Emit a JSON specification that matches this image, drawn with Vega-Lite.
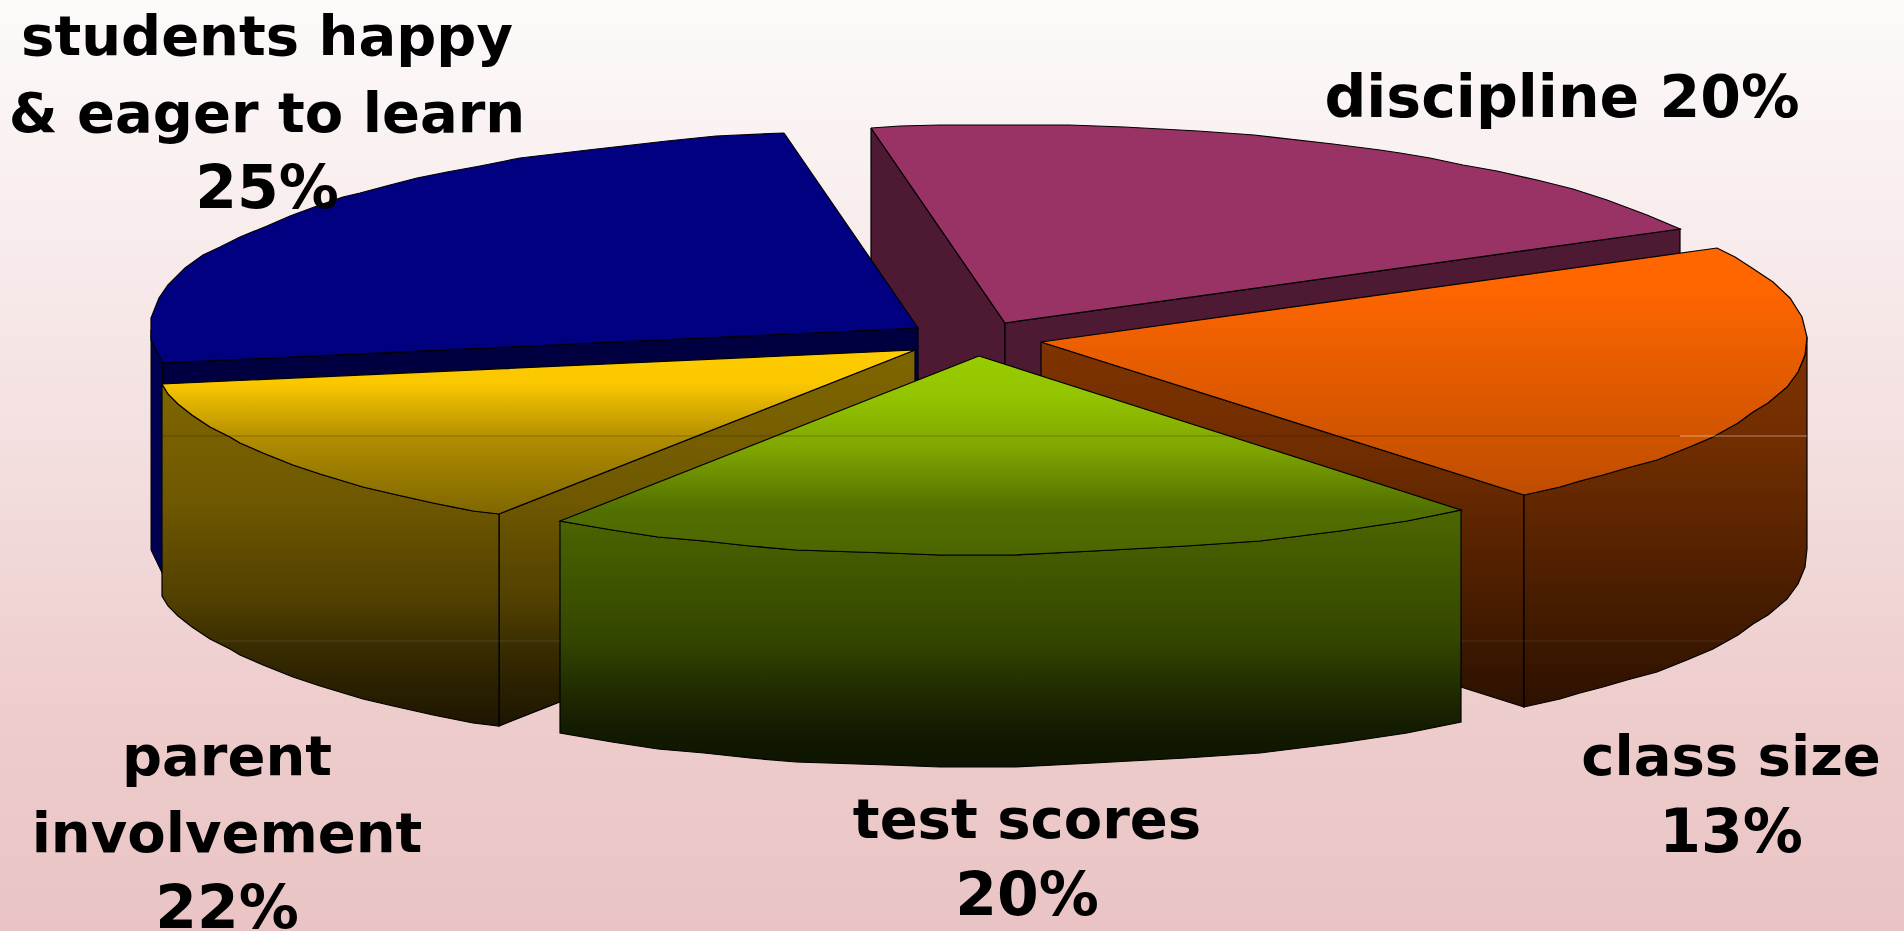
{"$schema":"https://vega.github.io/schema/vega-lite/v6.json","width":1904,"height":931,"padding":0,"autosize":"none","background":"#EAC4C4","config":{"view":{"stroke":null,"fill":{"gradient":"linear","x1":0,"y1":0,"x2":0,"y2":1,"stops":[{"offset":0,"color":"#FDFAFA"},{"offset":0.5,"color":"#F3DEDE"},{"offset":0.75,"color":"#EECDCD"},{"offset":1,"color":"#EAC4C4"}]}}},"data":{"values":[
{"s":"pl","i":0,"x":871,"y":128},{"s":"pl","i":1,"x":1005,"y":323},{"s":"pl","i":2,"x":1005,"y":535},{"s":"pl","i":3,"x":871,"y":340},{"s":"pl","i":4,"x":871,"y":128},
{"s":"pf","i":0,"x":1005,"y":323},{"s":"pf","i":1,"x":1680,"y":229},{"s":"pf","i":2,"x":1680,"y":441},{"s":"pf","i":3,"x":1005,"y":535},{"s":"pf","i":4,"x":1005,"y":323},
{"s":"pt","i":0,"x":871,"y":128},{"s":"pt","i":1,"x":900,"y":126},{"s":"pt","i":2,"x":940,"y":125},{"s":"pt","i":3,"x":1069,"y":125},{"s":"pt","i":4,"x":1124,"y":127},{"s":"pt","i":5,"x":1198,"y":131},{"s":"pt","i":6,"x":1254,"y":135},{"s":"pt","i":7,"x":1333,"y":144},{"s":"pt","i":8,"x":1380,"y":150},{"s":"pt","i":9,"x":1400,"y":153},{"s":"pt","i":10,"x":1430,"y":158},{"s":"pt","i":11,"x":1463,"y":165},{"s":"pt","i":12,"x":1497,"y":171},{"s":"pt","i":13,"x":1537,"y":180},{"s":"pt","i":14,"x":1573,"y":189},{"s":"pt","i":15,"x":1607,"y":200},{"s":"pt","i":16,"x":1647,"y":215},{"s":"pt","i":17,"x":1680,"y":229},{"s":"pt","i":18,"x":1005,"y":323},{"s":"pt","i":19,"x":871,"y":128},
{"s":"oi","i":0,"x":1041,"y":342},{"s":"oi","i":1,"x":1524,"y":495},{"s":"oi","i":2,"x":1524,"y":707},{"s":"oi","i":3,"x":1041,"y":554},{"s":"oi","i":4,"x":1041,"y":342},
{"s":"oo","i":0,"x":1807,"y":337},{"s":"oo","i":1,"x":1805,"y":355},{"s":"oo","i":2,"x":1798,"y":372},{"s":"oo","i":3,"x":1787,"y":387},{"s":"oo","i":4,"x":1768,"y":403},{"s":"oo","i":5,"x":1753,"y":412},{"s":"oo","i":6,"x":1738,"y":423},{"s":"oo","i":7,"x":1713,"y":437},{"s":"oo","i":8,"x":1687,"y":448},{"s":"oo","i":9,"x":1657,"y":460},{"s":"oo","i":10,"x":1627,"y":468},{"s":"oo","i":11,"x":1603,"y":475},{"s":"oo","i":12,"x":1580,"y":481},{"s":"oo","i":13,"x":1560,"y":487},{"s":"oo","i":14,"x":1524,"y":495},{"s":"oo","i":15,"x":1524,"y":707},{"s":"oo","i":16,"x":1560,"y":699},{"s":"oo","i":17,"x":1580,"y":693},{"s":"oo","i":18,"x":1603,"y":687},{"s":"oo","i":19,"x":1627,"y":680},{"s":"oo","i":20,"x":1657,"y":672},{"s":"oo","i":21,"x":1687,"y":660},{"s":"oo","i":22,"x":1713,"y":649},{"s":"oo","i":23,"x":1738,"y":635},{"s":"oo","i":24,"x":1753,"y":624},{"s":"oo","i":25,"x":1768,"y":615},{"s":"oo","i":26,"x":1787,"y":599},{"s":"oo","i":27,"x":1798,"y":584},{"s":"oo","i":28,"x":1805,"y":567},{"s":"oo","i":29,"x":1807,"y":549},{"s":"oo","i":30,"x":1807,"y":337},
{"s":"ot","i":0,"x":1041,"y":342},{"s":"ot","i":1,"x":1717,"y":248},{"s":"ot","i":2,"x":1735,"y":257},{"s":"ot","i":3,"x":1752,"y":268},{"s":"ot","i":4,"x":1773,"y":282},{"s":"ot","i":5,"x":1790,"y":298},{"s":"ot","i":6,"x":1802,"y":317},{"s":"ot","i":7,"x":1807,"y":337},{"s":"ot","i":8,"x":1805,"y":355},{"s":"ot","i":9,"x":1798,"y":372},{"s":"ot","i":10,"x":1787,"y":387},{"s":"ot","i":11,"x":1768,"y":403},{"s":"ot","i":12,"x":1753,"y":412},{"s":"ot","i":13,"x":1738,"y":423},{"s":"ot","i":14,"x":1713,"y":437},{"s":"ot","i":15,"x":1687,"y":448},{"s":"ot","i":16,"x":1657,"y":460},{"s":"ot","i":17,"x":1627,"y":468},{"s":"ot","i":18,"x":1603,"y":475},{"s":"ot","i":19,"x":1580,"y":481},{"s":"ot","i":20,"x":1560,"y":487},{"s":"ot","i":21,"x":1524,"y":495},{"s":"ot","i":22,"x":1041,"y":342},
{"s":"bo","i":0,"x":151,"y":330},{"s":"bo","i":1,"x":163,"y":363},{"s":"bo","i":2,"x":163,"y":575},{"s":"bo","i":3,"x":151,"y":550},{"s":"bo","i":4,"x":151,"y":330},
{"s":"bf","i":0,"x":163,"y":363},{"s":"bf","i":1,"x":918,"y":328},{"s":"bf","i":2,"x":918,"y":540},{"s":"bf","i":3,"x":163,"y":575},{"s":"bf","i":4,"x":163,"y":363},
{"s":"bt","i":0,"x":784,"y":133},{"s":"bt","i":1,"x":716,"y":136},{"s":"bt","i":2,"x":667,"y":141},{"s":"bt","i":3,"x":588,"y":150},{"s":"bt","i":4,"x":520,"y":158},{"s":"bt","i":5,"x":480,"y":166},{"s":"bt","i":6,"x":447,"y":172},{"s":"bt","i":7,"x":417,"y":178},{"s":"bt","i":8,"x":390,"y":185},{"s":"bt","i":9,"x":360,"y":193},{"s":"bt","i":10,"x":343,"y":197},{"s":"bt","i":11,"x":317,"y":206},{"s":"bt","i":12,"x":290,"y":216},{"s":"bt","i":13,"x":267,"y":226},{"s":"bt","i":14,"x":240,"y":237},{"s":"bt","i":15,"x":220,"y":247},{"s":"bt","i":16,"x":203,"y":255},{"s":"bt","i":17,"x":185,"y":268},{"s":"bt","i":18,"x":168,"y":285},{"s":"bt","i":19,"x":159,"y":298},{"s":"bt","i":20,"x":151,"y":318},{"s":"bt","i":21,"x":151,"y":340},{"s":"bt","i":22,"x":163,"y":363},{"s":"bt","i":23,"x":918,"y":328},{"s":"bt","i":24,"x":784,"y":133},
{"s":"yi","i":0,"x":499,"y":514},{"s":"yi","i":1,"x":915,"y":350},{"s":"yi","i":2,"x":915,"y":562},{"s":"yi","i":3,"x":499,"y":726},{"s":"yi","i":4,"x":499,"y":514},
{"s":"yo","i":0,"x":162,"y":384},{"s":"yo","i":1,"x":168,"y":394},{"s":"yo","i":2,"x":178,"y":404},{"s":"yo","i":3,"x":192,"y":415},{"s":"yo","i":4,"x":210,"y":427},{"s":"yo","i":5,"x":230,"y":437},{"s":"yo","i":6,"x":240,"y":443},{"s":"yo","i":7,"x":263,"y":453},{"s":"yo","i":8,"x":293,"y":465},{"s":"yo","i":9,"x":320,"y":474},{"s":"yo","i":10,"x":363,"y":487},{"s":"yo","i":11,"x":393,"y":494},{"s":"yo","i":12,"x":433,"y":503},{"s":"yo","i":13,"x":473,"y":511},{"s":"yo","i":14,"x":499,"y":514},{"s":"yo","i":15,"x":499,"y":726},{"s":"yo","i":16,"x":473,"y":723},{"s":"yo","i":17,"x":433,"y":715},{"s":"yo","i":18,"x":393,"y":706},{"s":"yo","i":19,"x":363,"y":699},{"s":"yo","i":20,"x":320,"y":686},{"s":"yo","i":21,"x":293,"y":677},{"s":"yo","i":22,"x":263,"y":665},{"s":"yo","i":23,"x":240,"y":655},{"s":"yo","i":24,"x":230,"y":649},{"s":"yo","i":25,"x":210,"y":639},{"s":"yo","i":26,"x":192,"y":627},{"s":"yo","i":27,"x":178,"y":616},{"s":"yo","i":28,"x":168,"y":606},{"s":"yo","i":29,"x":162,"y":596},{"s":"yo","i":30,"x":162,"y":384},
{"s":"yt","i":0,"x":162,"y":384},{"s":"yt","i":1,"x":915,"y":350},{"s":"yt","i":2,"x":499,"y":514},{"s":"yt","i":3,"x":473,"y":511},{"s":"yt","i":4,"x":433,"y":503},{"s":"yt","i":5,"x":393,"y":494},{"s":"yt","i":6,"x":363,"y":487},{"s":"yt","i":7,"x":320,"y":474},{"s":"yt","i":8,"x":293,"y":465},{"s":"yt","i":9,"x":263,"y":453},{"s":"yt","i":10,"x":240,"y":443},{"s":"yt","i":11,"x":230,"y":437},{"s":"yt","i":12,"x":210,"y":427},{"s":"yt","i":13,"x":192,"y":415},{"s":"yt","i":14,"x":178,"y":404},{"s":"yt","i":15,"x":168,"y":394},{"s":"yt","i":16,"x":162,"y":384},
{"s":"go","i":0,"x":560,"y":521},{"s":"go","i":1,"x":612,"y":530},{"s":"go","i":2,"x":658,"y":537},{"s":"go","i":3,"x":704,"y":541},{"s":"go","i":4,"x":750,"y":546},{"s":"go","i":5,"x":796,"y":550},{"s":"go","i":6,"x":888,"y":553},{"s":"go","i":7,"x":940,"y":555},{"s":"go","i":8,"x":1014,"y":555},{"s":"go","i":9,"x":1094,"y":551},{"s":"go","i":10,"x":1186,"y":546},{"s":"go","i":11,"x":1260,"y":541},{"s":"go","i":12,"x":1340,"y":531},{"s":"go","i":13,"x":1407,"y":521},{"s":"go","i":14,"x":1461,"y":510},{"s":"go","i":15,"x":1461,"y":722},{"s":"go","i":16,"x":1407,"y":733},{"s":"go","i":17,"x":1340,"y":743},{"s":"go","i":18,"x":1260,"y":753},{"s":"go","i":19,"x":1186,"y":758},{"s":"go","i":20,"x":1094,"y":763},{"s":"go","i":21,"x":1014,"y":767},{"s":"go","i":22,"x":940,"y":767},{"s":"go","i":23,"x":888,"y":765},{"s":"go","i":24,"x":796,"y":762},{"s":"go","i":25,"x":750,"y":758},{"s":"go","i":26,"x":704,"y":753},{"s":"go","i":27,"x":658,"y":749},{"s":"go","i":28,"x":612,"y":742},{"s":"go","i":29,"x":560,"y":733},{"s":"go","i":30,"x":560,"y":521},
{"s":"gt","i":0,"x":979,"y":356},{"s":"gt","i":1,"x":1461,"y":510},{"s":"gt","i":2,"x":1407,"y":521},{"s":"gt","i":3,"x":1340,"y":531},{"s":"gt","i":4,"x":1260,"y":541},{"s":"gt","i":5,"x":1186,"y":546},{"s":"gt","i":6,"x":1094,"y":551},{"s":"gt","i":7,"x":1014,"y":555},{"s":"gt","i":8,"x":940,"y":555},{"s":"gt","i":9,"x":888,"y":553},{"s":"gt","i":10,"x":796,"y":550},{"s":"gt","i":11,"x":750,"y":546},{"s":"gt","i":12,"x":704,"y":541},{"s":"gt","i":13,"x":658,"y":537},{"s":"gt","i":14,"x":612,"y":530},{"s":"gt","i":15,"x":560,"y":521},{"s":"gt","i":16,"x":979,"y":356},
{"s":"d1","i":0,"x":162,"y":436},{"s":"d1","i":1,"x":1680,"y":436},
{"s":"l1","i":0,"x":1680,"y":436},{"s":"l1","i":1,"x":1807,"y":436},
{"s":"l2","i":0,"x":220,"y":641},{"s":"l2","i":1,"x":560,"y":641},
{"s":"l3","i":0,"x":1462,"y":641},{"s":"l3","i":1,"x":1725,"y":641},
{"s":"text","i":0,"x":267,"y":55,"label":"students happy"},
{"s":"text","i":1,"x":267,"y":132,"label":"& eager to learn"},
{"s":"pct","i":2,"x":267,"y":208,"label":"25%"},
{"s":"mix","i":3,"x":1562,"y":117,"label":"discipline 20%"},
{"s":"text","i":4,"x":1731,"y":775,"label":"class size"},
{"s":"pct","i":5,"x":1731,"y":852,"label":"13%"},
{"s":"text","i":6,"x":1027,"y":838,"label":"test scores"},
{"s":"pct","i":7,"x":1027,"y":915,"label":"20%"},
{"s":"text","i":8,"x":227,"y":775,"label":"parent"},
{"s":"text","i":9,"x":227,"y":852,"label":"involvement"},
{"s":"pct","i":10,"x":227,"y":928,"label":"22%"}
]},
"encoding":{"x":{"field":"x","type":"quantitative","scale":{"domain":[0,1904]},"axis":null},"y":{"field":"y","type":"quantitative","scale":{"domain":[931,0]},"axis":null},"order":{"field":"i","type":"quantitative"}},
"layer":[
{"transform":[{"filter":"datum.s==='pl'"}],"mark":{"type":"line","fill":"#4D1933","stroke":"#000","strokeWidth":1.2}},
{"transform":[{"filter":"datum.s==='pf'"}],"mark":{"type":"line","fill":"#4D1933","stroke":"#000","strokeWidth":1.2}},
{"transform":[{"filter":"datum.s==='pt'"}],"mark":{"type":"line","fill":"#993366","stroke":"#000","strokeWidth":1.2}},
{"transform":[{"filter":"datum.s==='oi'"}],"mark":{"type":"line","stroke":"#000","strokeWidth":1.2,"fill":{"gradient":"linear","x1":0,"y1":0,"x2":0,"y2":1,"stops":[{"offset":0,"color":"#7F3300"},{"offset":0.3,"color":"#702D00"},{"offset":1,"color":"#2C1100"}]}}},
{"transform":[{"filter":"datum.s==='oo'"}],"mark":{"type":"line","stroke":"#000","strokeWidth":1.2,"fill":{"gradient":"linear","x1":0,"y1":0,"x2":0,"y2":1,"stops":[{"offset":0,"color":"#7F3300"},{"offset":0.3,"color":"#702D00"},{"offset":1,"color":"#2C1100"}]}}},
{"transform":[{"filter":"datum.s==='ot'"}],"mark":{"type":"line","stroke":"#000","strokeWidth":1.2,"fill":{"gradient":"linear","x1":0,"y1":0,"x2":0,"y2":1,"stops":[{"offset":0,"color":"#FF6600"},{"offset":0.15,"color":"#FF6600"},{"offset":1,"color":"#BF4D00"}]}}},
{"transform":[{"filter":"datum.s==='bo'"}],"mark":{"type":"line","fill":"#000050","stroke":"#000","strokeWidth":1}},
{"transform":[{"filter":"datum.s==='bf'"}],"mark":{"type":"line","fill":"#000040","stroke":"#000","strokeWidth":1.2}},
{"transform":[{"filter":"datum.s==='bt'"}],"mark":{"type":"line","fill":"#000080","stroke":"#000","strokeWidth":1.2}},
{"transform":[{"filter":"datum.s==='yi'"}],"mark":{"type":"line","stroke":"#000","strokeWidth":1.2,"fill":{"gradient":"linear","x1":0,"y1":0,"x2":0,"y2":1,"stops":[{"offset":0,"color":"#806600"},{"offset":0.4,"color":"#6F5800"},{"offset":0.67,"color":"#514000"},{"offset":0.8,"color":"#372B00"},{"offset":1,"color":"#1D1500"}]}}},
{"transform":[{"filter":"datum.s==='yo'"}],"mark":{"type":"line","stroke":"#000","strokeWidth":1.2,"fill":{"gradient":"linear","x1":0,"y1":0,"x2":0,"y2":1,"stops":[{"offset":0,"color":"#806600"},{"offset":0.34,"color":"#6F5800"},{"offset":0.63,"color":"#514000"},{"offset":0.78,"color":"#372B00"},{"offset":1,"color":"#1D1500"}]}}},
{"transform":[{"filter":"datum.s==='yt'"}],"mark":{"type":"line","stroke":"#000","strokeWidth":1.2,"fill":{"gradient":"linear","x1":0,"y1":0,"x2":0,"y2":1,"stops":[{"offset":0,"color":"#FFCC00"},{"offset":0.2,"color":"#FBC800"},{"offset":0.55,"color":"#B08C00"},{"offset":1,"color":"#7F6600"}]}}},
{"transform":[{"filter":"datum.s==='go'"}],"mark":{"type":"line","stroke":"#000","strokeWidth":1.2,"fill":{"gradient":"linear","x1":0,"y1":0,"x2":0,"y2":1,"stops":[{"offset":0,"color":"#4D6600"},{"offset":0.05,"color":"#4B6300"},{"offset":0.5,"color":"#344600"},{"offset":0.74,"color":"#1D2700"},{"offset":0.87,"color":"#121A00"},{"offset":1,"color":"#0E1400"}]}}},
{"transform":[{"filter":"datum.s==='gt'"}],"mark":{"type":"line","stroke":"#000","strokeWidth":1.2,"fill":{"gradient":"linear","x1":0,"y1":0,"x2":0,"y2":1,"stops":[{"offset":0,"color":"#99CC00"},{"offset":0.2,"color":"#93C400"},{"offset":0.47,"color":"#7FA500"},{"offset":0.77,"color":"#527000"},{"offset":1,"color":"#4C6600"}]}}},
{"transform":[{"filter":"datum.s==='d1'"}],"mark":{"type":"line","stroke":"#000","strokeWidth":1,"strokeOpacity":0.25}},
{"transform":[{"filter":"datum.s==='l1'"}],"mark":{"type":"line","stroke":"#FFF","strokeWidth":1,"strokeOpacity":0.45}},
{"transform":[{"filter":"datum.s==='l2'"}],"mark":{"type":"line","stroke":"#FFF","strokeWidth":1,"strokeOpacity":0.1}},
{"transform":[{"filter":"datum.s==='l3'"}],"mark":{"type":"line","stroke":"#FFF","strokeWidth":1,"strokeOpacity":0.1}},
{"transform":[{"filter":"datum.s==='text'"}],"mark":{"type":"text","font":"DejaVu Sans","fontWeight":"bold","fontSize":56,"align":"center","baseline":"alphabetic","color":"#000"},"encoding":{"text":{"field":"label","type":"nominal"}}},
{"transform":[{"filter":"datum.s==='pct'"}],"mark":{"type":"text","font":"DejaVu Sans","fontWeight":"bold","fontSize":60,"align":"center","baseline":"alphabetic","color":"#000"},"encoding":{"text":{"field":"label","type":"nominal"}}},
{"transform":[{"filter":"datum.s==='mix'"}],"mark":{"type":"text","font":"DejaVu Sans","fontWeight":"bold","fontSize":58.5,"align":"center","baseline":"alphabetic","color":"#000"},"encoding":{"text":{"field":"label","type":"nominal"}}}
]}
